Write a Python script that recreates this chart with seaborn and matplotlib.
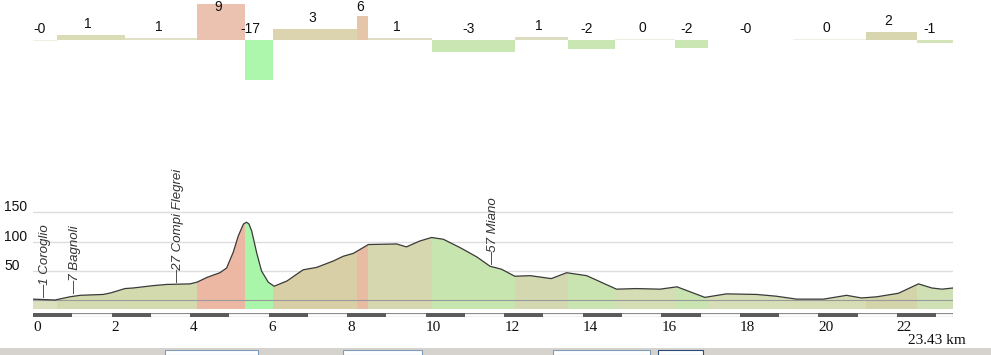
import numpy as np
import pandas as pd
import matplotlib
matplotlib.use("Agg")
import matplotlib.pyplot as plt
from matplotlib.patches import Rectangle
import matplotlib.transforms as mtransforms
import seaborn as sns

# ---------------- data ----------------
seg_edges_km = [0, 0.61, 2.34, 4.18, 5.40, 6.11, 8.25, 8.53, 10.16, 12.27,
                13.62, 14.82, 16.35, 17.19, 19.35, 21.21, 22.51, 23.43]
seg_grade = [-0.2, 1.2, 0.6, 9.0, -17.0, 2.7, 6.1, 0.6, -3.1, 0.7,
             -2.2, 0.2, -2.1, -0.1, 0.2, 2.0, -0.8]

prof_km = [0, 0.56, 0.94, 1.2, 1.79, 2.0, 2.34, 2.55, 3.06, 3.4, 4.0, 4.18,
           4.43, 4.76, 4.93, 5.10, 5.23, 5.36, 5.44, 5.50, 5.57, 5.70, 5.82,
           5.99, 6.14, 6.47, 6.88, 7.22, 7.65, 7.9, 8.16, 8.54, 9.26, 9.51,
           9.85, 10.15, 10.45, 10.87, 11.3, 11.64, 11.93, 12.27, 12.66, 13.2,
           13.59, 14.1, 14.86, 15.37, 15.97, 16.4, 17.11, 17.66, 18.43, 18.93,
           19.45, 20.13, 20.72, 21.1, 21.49, 22.04, 22.55, 22.89, 23.15, 23.43]
prof_elev = [2, 0.5, 6, 8.5, 10, 13, 20, 21, 25, 27, 28, 31,
             39, 47, 55, 82, 110, 130, 133, 130, 118, 80, 50,
             31, 24, 33, 52, 56, 67, 75, 80, 95, 96, 91,
             101, 107, 104, 90, 74, 58, 53, 41, 42, 37,
             47, 42, 19, 20, 19, 23, 5, 11, 10, 7,
             2, 2, 8.5, 4, 6, 12, 28, 21, 19, 21]

wp_km = [0.30, 1.07, 3.69, 11.71]
wp_elev = [1, 7, 27, 57]
wp_name = ["Coroglio", "Bagnoli", "Compi Flegrei", "Miano"]

xtick_km = [0, 2, 4, 6, 8, 10, 12, 14, 16, 18, 20, 22]
ytick_m = [50, 100, 150]
total_km = 23.43

# ---------------- styles ----------------
bar_colors = ['#EFEFDF', '#D9DCB5', '#DFE0C4', '#EBC1AF', '#ADF7AD', '#DCD3AF',
              '#E6C6A8', '#DEDDC2', '#C9E6B3', '#DCDCC0', '#C9E6B3', '#EEEEDF',
              '#C9E6B3', '#F2F2E6', '#F0F0E2', '#D7D6AE', '#D3E3BA']
fill_colors = ['#DCE0BE', '#D4DAB0', '#D3DBAE', '#ECB8A4', '#A9F5A9', '#D9CFA7',
               '#E8BBA3', '#D6D7AF', '#C7E5AF', '#D3D8B0', '#C9E4B0', '#D4DDB4',
               '#C9E4B0', '#D6DEB8', '#D6DCB6', '#D3D4AA', '#CFE0B4']

sns.set_theme(style="white")
plt.rcParams['font.family'] = ['Liberation Sans', 'DejaVu Sans']

W, H = 991, 355
fig = plt.figure(figsize=(W / 100, H / 100), dpi=100)
fig.patch.set_facecolor('white')


def rect(px_left, px_top, px_w, px_h):
    return [px_left / W, 1 - (px_top + px_h) / H, px_w / W, px_h / H]


X0, XW = 33, 920

# ---------------- gradient bars ----------------
axg = fig.add_axes(rect(X0, 0, XW, 80))
axg.set_xlim(0, total_km)
axg.set_ylim(-10, 10)
axg.axis('off')
left = np.array(seg_edges_km[:-1])
widths = np.diff(seg_edges_km)
axg.bar(left, seg_grade, width=widths, align='edge', color=bar_colors,
        linewidth=0)
for x0, w, g in zip(left, widths, seg_grade):
    ytxt = min(max(g, 0) + 1.75, 7.2)
    axg.text(x0 + w / 2 + 0.03, ytxt, f"{g:.0f}", ha='right', va='baseline',
             fontsize=10, color='#111111', clip_on=False, zorder=5)

# ---------------- profile ----------------
ax = fig.add_axes(rect(X0, 160, XW, 149))
ax.set_xlim(0, total_km)
ax.set_ylim(-14.8, 239)
for s in ax.spines.values():
    s.set_visible(False)
ax.set_xticks([])
ax.set_yticks([])
ax.patch.set_alpha(0)

for yv in ytick_m:
    ax.axhline(yv, color='#DDDDDD', lw=1.0, zorder=0)

base = ax.fill_between(prof_km, prof_elev, -14.8, color='none', lw=0)
clip_path = base.get_paths()[0]
for x0, x1, c in zip(seg_edges_km[:-1], seg_edges_km[1:], fill_colors):
    sp = ax.axvspan(x0, x1 + 0.01, color=c, lw=0, zorder=1)
    sp.set_clip_path(clip_path, ax.transData)

ax.axhline(0, color='#9A9A9A', lw=0.8, zorder=2)

df = pd.DataFrame({'km': prof_km, 'elev': prof_elev})
sns.lineplot(data=df, x='km', y='elev', ax=ax, color='#3A3A3A', lw=0.9,
             sort=False, zorder=3)
ax.set_xlabel('')
ax.set_ylabel('')

ylab_tr = mtransforms.blended_transform_factory(fig.transFigure, ax.transData)
for yv in ytick_m:
    ax.text(4 / W, yv + 1.5, str(yv), transform=ylab_tr, ha='left',
            va='baseline', fontsize=10, color='#111111')

for k, e, n in zip(wp_km, wp_elev, wp_name):
    ax.text(k, e + 3, f"\u2014{e} {n}", rotation=90, ha='center', va='bottom',
            fontsize=9.5, style='italic', color='#333333', zorder=4,
            clip_on=False)

# ---------------- scale bar ----------------
axs = fig.add_axes(rect(X0, 313, XW, 4))
axs.set_xlim(0, total_km)
axs.set_ylim(0, 1)
for s in axs.spines.values():
    s.set_visible(False)
axs.add_patch(Rectangle((0, 0), total_km, 1, facecolor='white',
                        edgecolor='#8E8E8E', lw=0.9))
for k in range(0, int(np.ceil(total_km)), 2):
    axs.add_patch(Rectangle((k, 0), min(1, total_km - k), 1,
                            facecolor='#5C5C5C', edgecolor='none'))
axs.set_yticks([])
axs.set_xticks(xtick_km)
axs.set_xticklabels([str(v) for v in xtick_km], ha='left',
                    fontfamily='Liberation Serif', fontsize=11,
                    color='#111111')
axs.tick_params(axis='x', length=0, pad=3)
fig.text(966 / W, 1 - 347 / H, f"{total_km} km", ha='right', va='bottom',
         fontfamily='Liberation Serif', fontsize=11, color='#111111')

# ---------------- bottom UI strip ----------------
fig.patches.append(Rectangle((0, 0), 1, 7 / H, transform=fig.transFigure,
                             facecolor='#D6D3CE', edgecolor='none'))
for bx, bw, ec in [(165, 93, '#7F9DB9'), (343, 79, '#7F9DB9'),
                   (553, 97, '#7F9DB9'), (658, 45, '#2A4A7A')]:
    fig.patches.append(Rectangle((bx / W, 0), bw / W, 5 / H,
                                 transform=fig.transFigure,
                                 facecolor='white', edgecolor=ec, lw=0.8))

fig.savefig('out.png', dpi=100)
